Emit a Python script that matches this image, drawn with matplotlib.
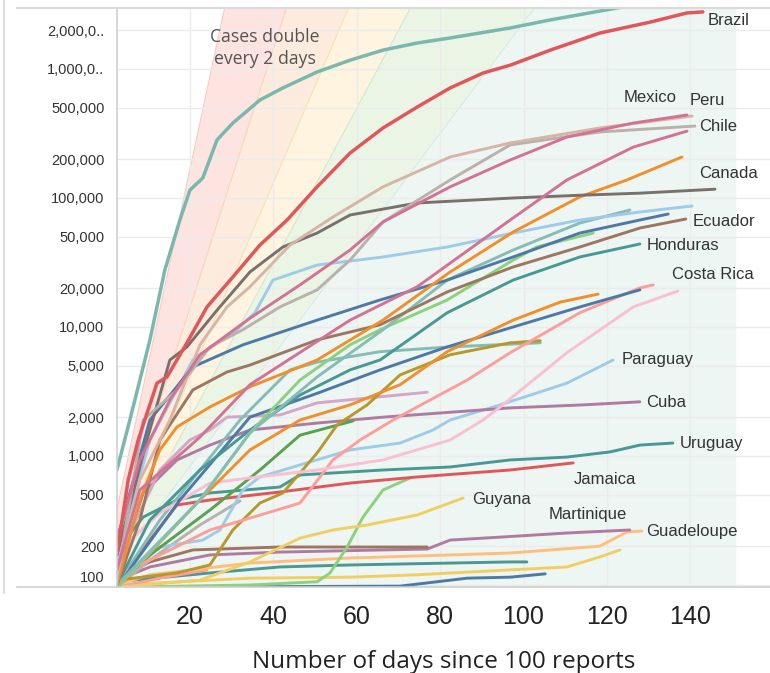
import numpy as np
import matplotlib.pyplot as plt
from matplotlib.lines import Line2D

plt.rcParams['font.family'] = ['Liberation Sans', 'DejaVu Sans']

# days since the 100th case / cumulative cases
usa_day = [2.5, 5.6, 10.4, 14.0, 17.6, 20.0, 23.1, 26.5, 30.3, 36.8, 42.3, 50.5, 58.4, 66.3, 74.5, 82.4, 96.8, 106.4, 122.4, 140]
usa_cases = [780, 1900, 7900, 27700, 67500, 115000, 143000, 282000, 381000, 575000, 713000, 948000,
             1170000, 1400000, 1590000, 1740000, 2080000, 2400000, 2970000, 3600000]
brazil_day = [2.5, 5.2, 7.6, 12.1, 14.5, 19.3, 24.1, 30.3, 36.8, 43.3, 50.5, 58.4, 66.3, 74.5, 82.4, 90.3, 96.8, 106.4, 118.3, 130.4, 139.2, 143.0]
brazil_cases = [171, 652, 1330, 3670, 4100, 7540, 14300, 24400, 43200, 67500, 122000, 223000, 349000, 507000,
                713000, 931000, 1070000, 1400000, 1900000, 2310000, 2720000, 2770000]
mexico_day = [2.5, 8.0, 15.2, 22.4, 34.4, 46.4, 58.4, 66.3, 82.4, 96.8, 110.4, 126.3, 139.2]
mexico_cases = [223, 932, 2720, 6090, 11700, 21200, 39500, 65200, 122000, 197000, 297000, 381000, 440000]
colombia_day = [2.5, 8.0, 22.4, 34.4, 58.4, 74.5, 96.8, 110.4, 126.3, 139.2]
colombia_cases = [131, 545, 1400, 3570, 11300, 20500, 67500, 138000, 248000, 330000]
peru_day = [2.5, 8.0, 15.2, 22.4, 28.9, 34.4, 44.0, 54.3, 66.3, 82.4, 96.8, 118.3, 140.4]
peru_cases = [120, 652, 1900, 7270, 14300, 20500, 43200, 71200, 122000, 208000, 267000, 349000, 432000]
chile_day = [2.5, 8.8, 16.9, 24.8, 32.7, 41.6, 50.5, 58.4, 66.3, 82.4, 96.8, 118.3, 141.1]
chile_cases = [109, 1900, 3250, 7010, 9530, 14300, 19400, 33000, 65200, 138000, 258000, 325000, 361000]
canada_day = [2.5, 9.7, 15.2, 19.3, 26.5, 34.4, 42.3, 50.5, 58.4, 74.5, 97.5, 113.5, 127.9, 145.9]
canada_cases = [171, 1330, 5550, 7010, 13500, 26700, 41700, 53500, 73800, 91500, 100000, 105000, 109000, 117000]
argentina_day = [2.5, 8.0, 12.8, 16.9, 24.8, 34.4, 50.5, 66.3, 82.4, 97.5, 113.5, 124.8, 138.0]
argentina_cases = [100, 456, 1114, 1680, 2400, 3440, 5550, 11300, 26700, 54500, 102000, 138000, 208000]
ecuador_day = [2.5, 8.0, 12.8, 20.7, 28.9, 34.4, 50.5, 65.6, 81.7, 97.5, 113.5, 127.9, 138.9]
ecuador_cases = [100, 319, 1330, 3250, 4480, 5070, 7940, 10400, 18700, 29200, 41700, 58500, 68700]
blue_a_day = [2.5, 10.4, 20.7, 32.7, 50.5, 65.6, 81.7, 97.5, 113.5, 127.9, 134.7]
blue_a_cases = [223, 1900, 4900, 7270, 11300, 16200, 23100, 34900, 53500, 67500, 75100]
ltblue_a_day = [2.5, 10.4, 20.7, 31.3, 35.6, 39.9, 50.5, 66.3, 81.7, 97.5, 113.5, 127.9, 140.4]
ltblue_a_cases = [156, 1330, 5550, 9530, 12900, 23100, 30200, 34900, 41700, 53500, 67500, 77900, 86700]
ltteal_a_day = [2.5, 22.4, 34.4, 50.5, 66.3, 81.7, 97.5, 113.5, 125.5]
ltteal_a_cases = [100, 456, 1510, 4100, 9530, 23100, 39500, 64000, 80700]
ltgreen_a_day = [2.5, 22.4, 34.4, 46.4, 58.4, 65.6, 81.7, 97.5, 103.2, 116.7]
ltgreen_a_cases = [96, 456, 1510, 3880, 7270, 9530, 16200, 33000, 41700, 53500]
honduras_day = [2.5, 10.4, 22.4, 34.4, 46.4, 58.4, 65.6, 81.7, 97.5, 113.5, 127.9]
honduras_cases = [100, 319, 779, 1590, 2970, 4650, 5550, 12900, 23100, 34900, 44000]
orange_b_day = [2.5, 8.8, 22.4, 34.4, 46.4, 58.4, 70.4, 81.7, 97.5, 108.8, 117.9]
orange_b_cases = [96, 156, 456, 1114, 1900, 2490, 3570, 6440, 11300, 15600, 18000]
blue_b_day = [2.5, 17.6, 34.4, 50.5, 65.6, 81.7, 97.5, 113.5, 127.9]
blue_b_cases = [96, 456, 2000, 3060, 4650, 7010, 10000, 14300, 19400]
costa_rica_day = [2.5, 5.6, 12.8, 24.8, 34.4, 50.5, 66.3, 82.4, 90.3, 94.4, 110.4, 126.3, 137.0]
costa_rica_cases = [100, 223, 361, 617, 676, 779, 932, 1330, 1900, 2400, 6320, 14300, 19000]
salmon_a_day = [2.5, 10.4, 24.8, 34.4, 46.4, 54.3, 60.8, 68.7, 74.5, 86.5, 96.8, 113.5, 127.9, 131.1]
salmon_a_cases = [120, 156, 267, 330, 432, 932, 1330, 1900, 2400, 3880, 6320, 12900, 20100, 21200]
olive_day = [2.5, 16.9, 24.8, 30.3, 36.8, 42.3, 50.5, 55.3, 62.5, 70.4, 82.4, 96.8, 104.0]
olive_cases = [109, 124, 143, 267, 432, 517, 1055, 1740, 2490, 4250, 6090, 7540, 7830]
green_day = [2.5, 10.4, 24.8, 36.8, 46.4, 59.1]
green_cases = [100, 171, 381, 779, 1450, 1870]
lilac_day = [2.5, 12.8, 20.0, 24.8, 28.9, 41.6, 50.5, 76.9]
lilac_cases = [156, 779, 1330, 1590, 2000, 2080, 2580, 3120]
cuba_day = [2.5, 8.8, 16.9, 24.8, 34.4, 50.5, 66.3, 96.8, 114.3, 127.9]
cuba_cases = [120, 517, 932, 1215, 1590, 1800, 2000, 2360, 2490, 2630]
paraguay_day = [2.5, 12.8, 23.1, 27.2, 32.7, 36.8, 58.4, 70.4, 78.3, 82.4, 94.4, 110.4, 121.5]
paraguay_cases = [100, 197, 223, 267, 545, 688, 1114, 1260, 1590, 1900, 2490, 3670, 5550]
uruguay_day = [2.5, 4.4, 8.8, 16.9, 24.8, 41.6, 46.4, 66.3, 82.4, 96.8, 110.4, 120.7, 127.9, 135.8]
uruguay_cases = [109, 223, 336, 456, 517, 575, 713, 779, 822, 932, 981, 1075, 1215, 1260]
jamaica_day = [2.5, 10.4, 16.9, 24.8, 41.6, 58.4, 74.5, 96.8, 111.9]
jamaica_cases = [100, 223, 417, 456, 526, 617, 688, 779, 884]
gray_short_day = [2.5, 10.4, 22.4, 32.0]
gray_short_cases = [96, 156, 292, 448]
guyana_day = [2.5, 22.4, 34.4, 46.4, 54.3, 62.5, 74.5, 85.5]
guyana_cases = [96, 109, 151, 231, 267, 292, 349, 472]
ltgreen_b_day = [2.5, 34.4, 50.5, 53.6, 57.7, 61.5, 66.3, 72.8]
ltgreen_b_cases = [96, 100, 106, 124, 197, 336, 545, 676]
brown_flat_day = [2.5, 10.4, 20.7, 41.6, 76.9]
brown_flat_cases = [113, 151, 187, 197, 197]
martinique_day = [2.5, 10.4, 24.8, 41.6, 76.9, 82.4, 94.4, 110.4, 125.5]
martinique_cases = [109, 138, 171, 180, 190, 223, 235, 253, 267]
guadeloupe_day = [2.5, 10.4, 34.4, 58.4, 82.4, 96.8, 118.3, 124.8, 128.4]
guadeloupe_cases = [100, 120, 148, 162, 171, 177, 200, 258, 262]
teal_low_day = [2.5, 24.8, 41.6, 58.4, 96.8, 100.8]
teal_low_cases = [106, 124, 138, 143, 151, 151]
yellow_low_day = [2.5, 34.4, 58.4, 74.5, 96.8, 110.4, 118.3, 123.1]
yellow_low_cases = [100, 113, 115, 120, 131, 138, 165, 187]
blue_low_day = [2.5, 70.4, 79.3, 86.5, 96.8, 105.2]
blue_low_cases = [96, 98, 106, 113, 115, 122]
salmon_short_day = [2.5, 12.8, 24.1]
salmon_short_cases = [96, 113, 131]
ltteal_flat_day = [2.5, 12.8, 22.4, 32.0, 44.0, 50.5, 65.6, 82.4, 104.0]
ltteal_flat_cases = [100, 319, 779, 1900, 4650, 5340, 6440, 7010, 7540]

# guide cones: cases doubling every N days, starting from 100 cases
doubling_periods = [2, 3, 4, 5, 7]
guide_start_day = -1.4
guide_start_cases = 100
guide_end_day = 151

label_text = ['Brazil', 'Mexico', 'Peru', 'Chile', 'Canada', 'Ecuador', 'Honduras', 'Costa Rica',
              'Paraguay', 'Cuba', 'Uruguay', 'Jamaica', 'Guyana', 'Martinique', 'Guadeloupe']
label_day = [144.2, 123.9, 139.9, 142.1, 142.1, 140.6, 129.4, 135.6, 123.6, 129.4, 137.5, 112.1, 87.6, 105.9, 129.4]
label_cases = [2.36e6, 5.96e5, 5.70e5, 3.61e5, 1.56e5, 6.52e4, 4.25e4, 2.53e4, 5.55e3, 2.58e3, 1.24e3, 652, 464, 355, 258]

yticks = [100, 200, 500, 1000, 2000, 5000, 10000, 20000, 50000, 100000, 200000, 500000, 1000000, 2000000]
ytick_labels = ['100', '200', '500', '1,000', '2,000', '5,000', '10,000', '20,000', '50,000',
                '100,000', '200,000', '500,000', '1,000,0..', '2,000,0..']
xticks = [20, 40, 60, 80, 100, 120, 140]

series = [
    (blue_low_day, blue_low_cases, '#4E79A7'),
    (yellow_low_day, yellow_low_cases, '#F1CE63'),
    (teal_low_day, teal_low_cases, '#499894'),
    (salmon_short_day, salmon_short_cases, '#FF9D9A'),
    (guadeloupe_day, guadeloupe_cases, '#FFBE7D'),
    (martinique_day, martinique_cases, '#B07AA1'),
    (brown_flat_day, brown_flat_cases, '#9D7660'),
    (ltgreen_b_day, ltgreen_b_cases, '#8CD17D'),
    (guyana_day, guyana_cases, '#F1CE63'),
    (gray_short_day, gray_short_cases, '#BAB0AC'),
    (jamaica_day, jamaica_cases, '#E15759'),
    (uruguay_day, uruguay_cases, '#499894'),
    (paraguay_day, paraguay_cases, '#A0CBE8'),
    (cuba_day, cuba_cases, '#B07AA1'),
    (lilac_day, lilac_cases, '#D4A6C8'),
    (green_day, green_cases, '#59A14F'),
    (ltteal_flat_day, ltteal_flat_cases, '#86BCB6'),
    (olive_day, olive_cases, '#B6992D'),
    (salmon_a_day, salmon_a_cases, '#FF9D9A'),
    (costa_rica_day, costa_rica_cases, '#FABFD2'),
    (blue_b_day, blue_b_cases, '#4E79A7'),
    (orange_b_day, orange_b_cases, '#F28E2B'),
    (honduras_day, honduras_cases, '#499894'),
    (ltgreen_a_day, ltgreen_a_cases, '#8CD17D'),
    (ltteal_a_day, ltteal_a_cases, '#86BCB6'),
    (ltblue_a_day, ltblue_a_cases, '#A0CBE8'),
    (blue_a_day, blue_a_cases, '#4E79A7'),
    (ecuador_day, ecuador_cases, '#9D7660'),
    (argentina_day, argentina_cases, '#F28E2B'),
    (canada_day, canada_cases, '#79706E'),
    (chile_day, chile_cases, '#BAB0AC'),
    (peru_day, peru_cases, '#D7B5A6'),
    (colombia_day, colombia_cases, '#D37295'),
    (mexico_day, mexico_cases, '#D37295'),
    (usa_day, usa_cases, '#7AB8AE'),
    (brazil_day, brazil_cases, '#E15759'),
]

band_fill = ['#FDE4E1', '#FDECDD', '#FEF4DF', '#EBF5E5', '#EDF6F2']
band_edge = ['#F9CBC5', '#F8D5B6', '#F4E2B4', '#D3E8CB', '#D6EBE2']

fig = plt.figure(figsize=(7.7, 6.73), dpi=100)
ax = fig.add_axes([117/770, 1 - 587/673, 1 - 117/770, (587 - 8)/673])
ax.set_yscale('log')
ax.set_xlim(2.52, 159.1)
ax.set_ylim(96.5, 2.97e6)

# doubling cones
gx = np.linspace(guide_start_day, guide_end_day, 600)
curves = [guide_start_cases * 2 ** ((gx - guide_start_day) / p) for p in doubling_periods]
for i in range(len(doubling_periods)):
    lower = curves[i + 1] if i + 1 < len(curves) else np.full_like(gx, 50.0)
    ax.fill_between(gx, lower, curves[i], color=band_fill[i], lw=0, zorder=0.2)
    ax.plot(gx, curves[i], color=band_edge[i], lw=0.8, zorder=0.3)

ax.set_axisbelow(True)
ax.grid(True, color='#EBEBEB', lw=1.0)

for d, c, col in series:
    lw = 2.5 if col in ('#E15759', '#7AB8AE') and len(d) > 15 else 2.1
    ax.plot(d, c, color=col, lw=lw, solid_capstyle='round', solid_joinstyle='round', zorder=2)

for t, d, c in zip(label_text, label_day, label_cases):
    ax.text(d, c, t, fontsize=12, color='#333333', ha='left', va='center', zorder=3)

ax.text(38, 1.45e6, 'Cases double\nevery 2 days', fontsize=12.7, color='#555555', family='Open Sans',
        ha='center', va='center', linespacing=1.3, zorder=3)

ax.set_yticks(yticks)
ax.set_yticklabels(ytick_labels)
ax.minorticks_off()
ax.set_xticks(xticks)
ax.tick_params(axis='y', length=0, pad=9, labelsize=10.5, labelcolor='#333333')
ax.tick_params(axis='x', length=0, pad=13, labelsize=18, labelcolor='#222222')
ax.get_yticklabels()[0].set_va('bottom')
ax.set_xlabel('Number of days since 100 reports', fontsize=17.5, family='Open Sans', color='#222222', labelpad=15)

for s in ('top', 'right'):
    ax.spines[s].set_visible(False)
for s in ('left', 'bottom'):
    ax.spines[s].set_color('#CFCFCF')
    ax.spines[s].set_linewidth(1.2)

# pane borders drawn by the dashboard
fig.add_artist(Line2D([17/770, 1], [1 - 8/673] * 2, color='#DADADA', lw=1.6))
fig.add_artist(Line2D([17/770, 117/770], [1 - 587/673] * 2, color='#CFCFCF', lw=1.2))
fig.add_artist(Line2D([4/770] * 2, [1, 1 - 593/673], color='#D5D5D5', lw=1.2))

fig.savefig('out.png', dpi=100)
